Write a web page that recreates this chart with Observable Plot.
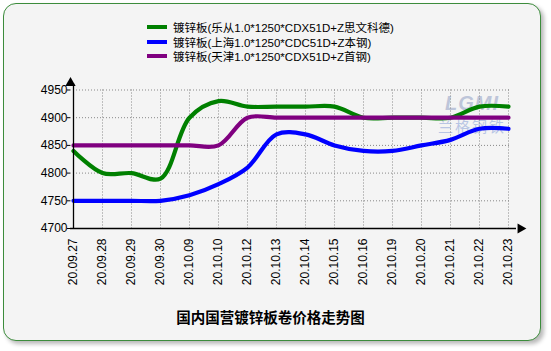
<!DOCTYPE html>
<html>
<head>
<meta charset="utf-8">
<script src="https://cdn.jsdelivr.net/npm/d3@7"></script>
<script src="https://cdn.jsdelivr.net/npm/@observablehq/plot@0.6"></script>
<style>
  html, body { margin: 0; padding: 0; background: #ffffff; }
  #wrap { position: relative; width: 551px; height: 351px; overflow: hidden; }
  #panel { position: absolute; left: 3px; top: 3px; width: 536px; height: 336px;
    border: 1.5px solid #3c8c3c; border-radius: 13px; background: #f4f4f4;
    box-shadow: 3px 3px 4px rgba(0,0,0,0.28); }
  #chart { position: absolute; left: 0; top: 0; }
  #legend { position: absolute; left: 147px; top: 20px; font-family: "Liberation Sans", "Noto Sans CJK SC", sans-serif; font-size: 11.5px; color: #000; }
  .item { display: flex; align-items: center; height: 14.6px; white-space: nowrap; }
  .sw { width: 20px; height: 4px; margin-right: 6px; }
  #title { position: absolute; left: 0; width: 541px; top: 306px; text-align: center;
    font-family: "Noto Sans CJK SC", sans-serif; font-weight: bold; font-size: 14.5px; color: #000; }
  #wm { position: absolute; left: 436px; top: 92px; width: 72px; text-align: center; opacity: 0.35; pointer-events: none; }
  #wm .a { font-family: "Liberation Sans", sans-serif; font-weight: bold; font-style: italic; font-size: 20px; color: #5a6fa8; letter-spacing: 1px; }
  #wm .b { font-family: "Noto Sans CJK SC", sans-serif; font-size: 15px; color: #4a6fc8; margin-top: 0px; letter-spacing: 2px; }
</style>
</head>
<body>
<div id="wrap">
  <div id="panel"></div>
  <div id="wm"><div class="a">LGMI</div><div class="b">兰格钢铁</div></div>
  <div id="chart"></div>
  <div id="legend"></div>
  <div id="title"></div>
</div>
<script>
const dates = ["20.09.27","20.09.28","20.09.29","20.09.30","20.10.09","20.10.10","20.10.12","20.10.13","20.10.14","20.10.15","20.10.16","20.10.19","20.10.20","20.10.21","20.10.22","20.10.23"];
const seriesNames = ["镀锌板(乐从1.0*1250*CDX51D+Z思文科德)", "镀锌板(上海1.0*1250*CDC51D+Z本钢)", "镀锌板(天津1.0*1250*CDX51D+Z首钢)"];
const seriesColors = ["#008000", "#0000ff", "#800080"];
const leCong = [4840,4800,4800,4790,4900,4930,4920,4920,4920,4920,4900,4900,4900,4900,4920,4920];
const shangHai = [4750,4750,4750,4750,4760,4780,4810,4870,4870,4850,4840,4840,4850,4860,4880,4880];
const tianJin = [4850,4850,4850,4850,4850,4850,4900,4900,4900,4900,4900,4900,4900,4900,4900,4900];
const yTicks = [4700,4750,4800,4850,4900,4950];
const titleText = "国内国营镀锌板卷价格走势图";

const allSeries = [leCong, shangHai, tianJin];
const rows = allSeries.flatMap((vals, s) => vals.map((v, i) => ({date: dates[i], value: v, series: seriesNames[s]})));

const chart = Plot.plot({
  width: 551,
  height: 351,
  marginLeft: 70,
  marginRight: 41,
  marginTop: 89.5,
  marginBottom: 123,
  style: {background: "transparent", fontFamily: "Liberation Sans, Arial, sans-serif", fontSize: "12px", color: "#000"},
  x: {type: "point", domain: dates, padding: 0, label: null},
  y: {type: "linear", domain: [4700, 4950], label: null},
  color: {domain: seriesNames, range: seriesColors},
  marks: [
    Plot.gridX(dates.slice(1), {stroke: "#888", strokeOpacity: 1, strokeDasharray: "1,2"}),
    Plot.gridY(yTicks.slice(1), {stroke: "#888", strokeOpacity: 1, strokeDasharray: "1,2"}),
    Plot.axisY({ticks: yTicks, tickSize: 3, tickPadding: 0, fontSize: 12, stroke: "#000", tickFormat: d => String(d), label: null}),
    Plot.axisX({tickRotate: -90, tickSize: 3, tickPadding: 7, fontSize: 12, stroke: "#888", strokeDasharray: "1,2", label: null}),
    Plot.line(rows, {x: "date", y: "value", stroke: "series", z: "series", strokeWidth: 4.2, curve: "catmull-rom"}),
    Plot.ruleX([dates[0]], {stroke: "#000", strokeWidth: 1.3, insetTop: -6}),
    Plot.ruleY([4700], {stroke: "#000", strokeWidth: 1.3, insetRight: -6}),
    Plot.dot([0], {frameAnchor: "top-left", dy: -7, symbol: "triangle", r: 3.8, fill: "#000", stroke: "none"}),
    Plot.dot([0], {frameAnchor: "bottom-right", dx: 10, symbol: "triangle", rotate: 90, r: 3.8, fill: "#000", stroke: "none"})
  ]
});
document.getElementById("chart").appendChild(chart);

const legend = document.getElementById("legend");
seriesNames.forEach((name, i) => {
  const it = document.createElement("div");
  it.className = "item";
  const sw = document.createElement("div");
  sw.className = "sw";
  sw.style.background = seriesColors[i];
  const tx = document.createElement("span");
  tx.textContent = name;
  it.appendChild(sw); it.appendChild(tx);
  legend.appendChild(it);
});
document.getElementById("title").textContent = titleText;
</script>
</body>
</html>
